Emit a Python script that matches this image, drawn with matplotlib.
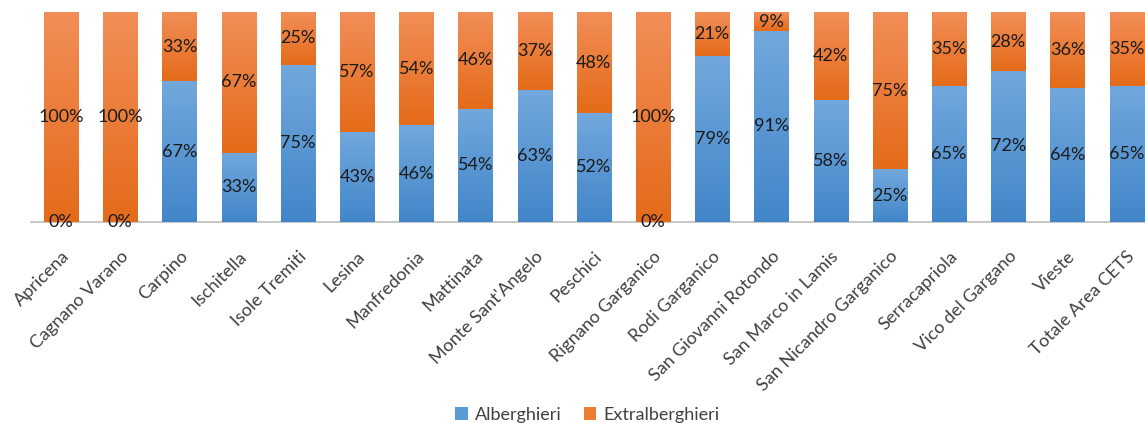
import matplotlib.pyplot as plt
import numpy as np
from matplotlib.colors import LinearSegmentedColormap
from matplotlib.patches import Patch

plt.rcParams['font.family'] = ['Lato', 'DejaVu Sans']

comuni = ['Apricena', 'Cagnano Varano', 'Carpino', 'Ischitella', 'Isole Tremiti',
          'Lesina', 'Manfredonia', 'Mattinata', "Monte Sant'Angelo", 'Peschici',
          'Rignano Garganico', 'Rodi Garganico', 'San Giovanni Rotondo',
          'San Marco in Lamis', 'San Nicandro Garganico', 'Serracapriola',
          'Vico del Gargano', 'Vieste', 'Totale Area CETS']
alberghieri = [0, 0, 67, 33, 75, 43, 46, 54, 63, 52, 0, 79, 91, 58, 25, 65, 72, 64, 65]
extralberghieri = [100, 100, 33, 67, 25, 57, 54, 46, 37, 48, 100, 21, 9, 42, 75, 35, 28, 36, 35]

blu = LinearSegmentedColormap.from_list('blu', ['#4286c9', '#72a8dd'])
arancio = LinearSegmentedColormap.from_list('arancio', ['#e46b19', '#f28e58'])

fig = plt.figure(figsize=(11.45, 4.23), dpi=100)
ax = fig.add_axes([31.4 / 1145, 1 - 221.7 / 423, 1124.8 / 1145, 209.4 / 423])

x = np.arange(len(comuni))
a = np.array(alberghieri) / 100
e = np.array(extralberghieri) / 100
w = 0.575

b1 = ax.bar(x, a, w, color='#5b9bd5', linewidth=0)
b2 = ax.bar(x, e, w, bottom=a, color='#ed7d31', linewidth=0)

# gradient fill, lighter at the top of every segment
grad = np.linspace(0, 1, 256).reshape(-1, 1)
for bars, cm in ((b1, blu), (b2, arancio)):
    for p in bars:
        if p.get_height() <= 0:
            continue
        x0, y0 = p.get_x(), p.get_y()
        im = ax.imshow(grad, cmap=cm, origin='lower', aspect='auto',
                       extent=[x0, x0 + p.get_width(), y0, y0 + p.get_height()],
                       zorder=2, interpolation='bilinear')
        im.set_clip_path(p)

for i in range(len(comuni)):
    ax.text(x[i], a[i] / 2, f'{alberghieri[i]}%', ha='center', va='center',
            fontsize=13, color='#1a1a1a', zorder=3)
    ax.text(x[i], a[i] + e[i] / 2, f'{extralberghieri[i]}%', ha='center', va='center',
            fontsize=13, color='#1a1a1a', zorder=3)

ax.set_xlim(-0.5, len(comuni) - 0.5)
ax.set_ylim(0, 1)
ax.set_yticks([])
ax.set_xticks(x)
ax.set_xticklabels(comuni, rotation=45, ha='right', rotation_mode='anchor',
                   fontsize=13, color='#404040')
ax.tick_params(axis='x', length=0, pad=19)
for s in ['top', 'right', 'left']:
    ax.spines[s].set_visible(False)
ax.spines['bottom'].set_color('#bfbfbf')
ax.spines['bottom'].set_linewidth(1.2)
ax.spines['bottom'].set_zorder(1)

handles = [Patch(facecolor='#5b9bd5', label='Alberghieri'),
           Patch(facecolor='#ed7d31', label='Extralberghieri')]
fig.legend(handles=handles, loc='center', bbox_to_anchor=(0.513, 0.02), ncol=2,
           frameon=False, fontsize=13, handlelength=0.7, handleheight=0.7,
           handletextpad=0.4, columnspacing=1.2, labelcolor='#404040')

fig.savefig('out.png', dpi=100)
